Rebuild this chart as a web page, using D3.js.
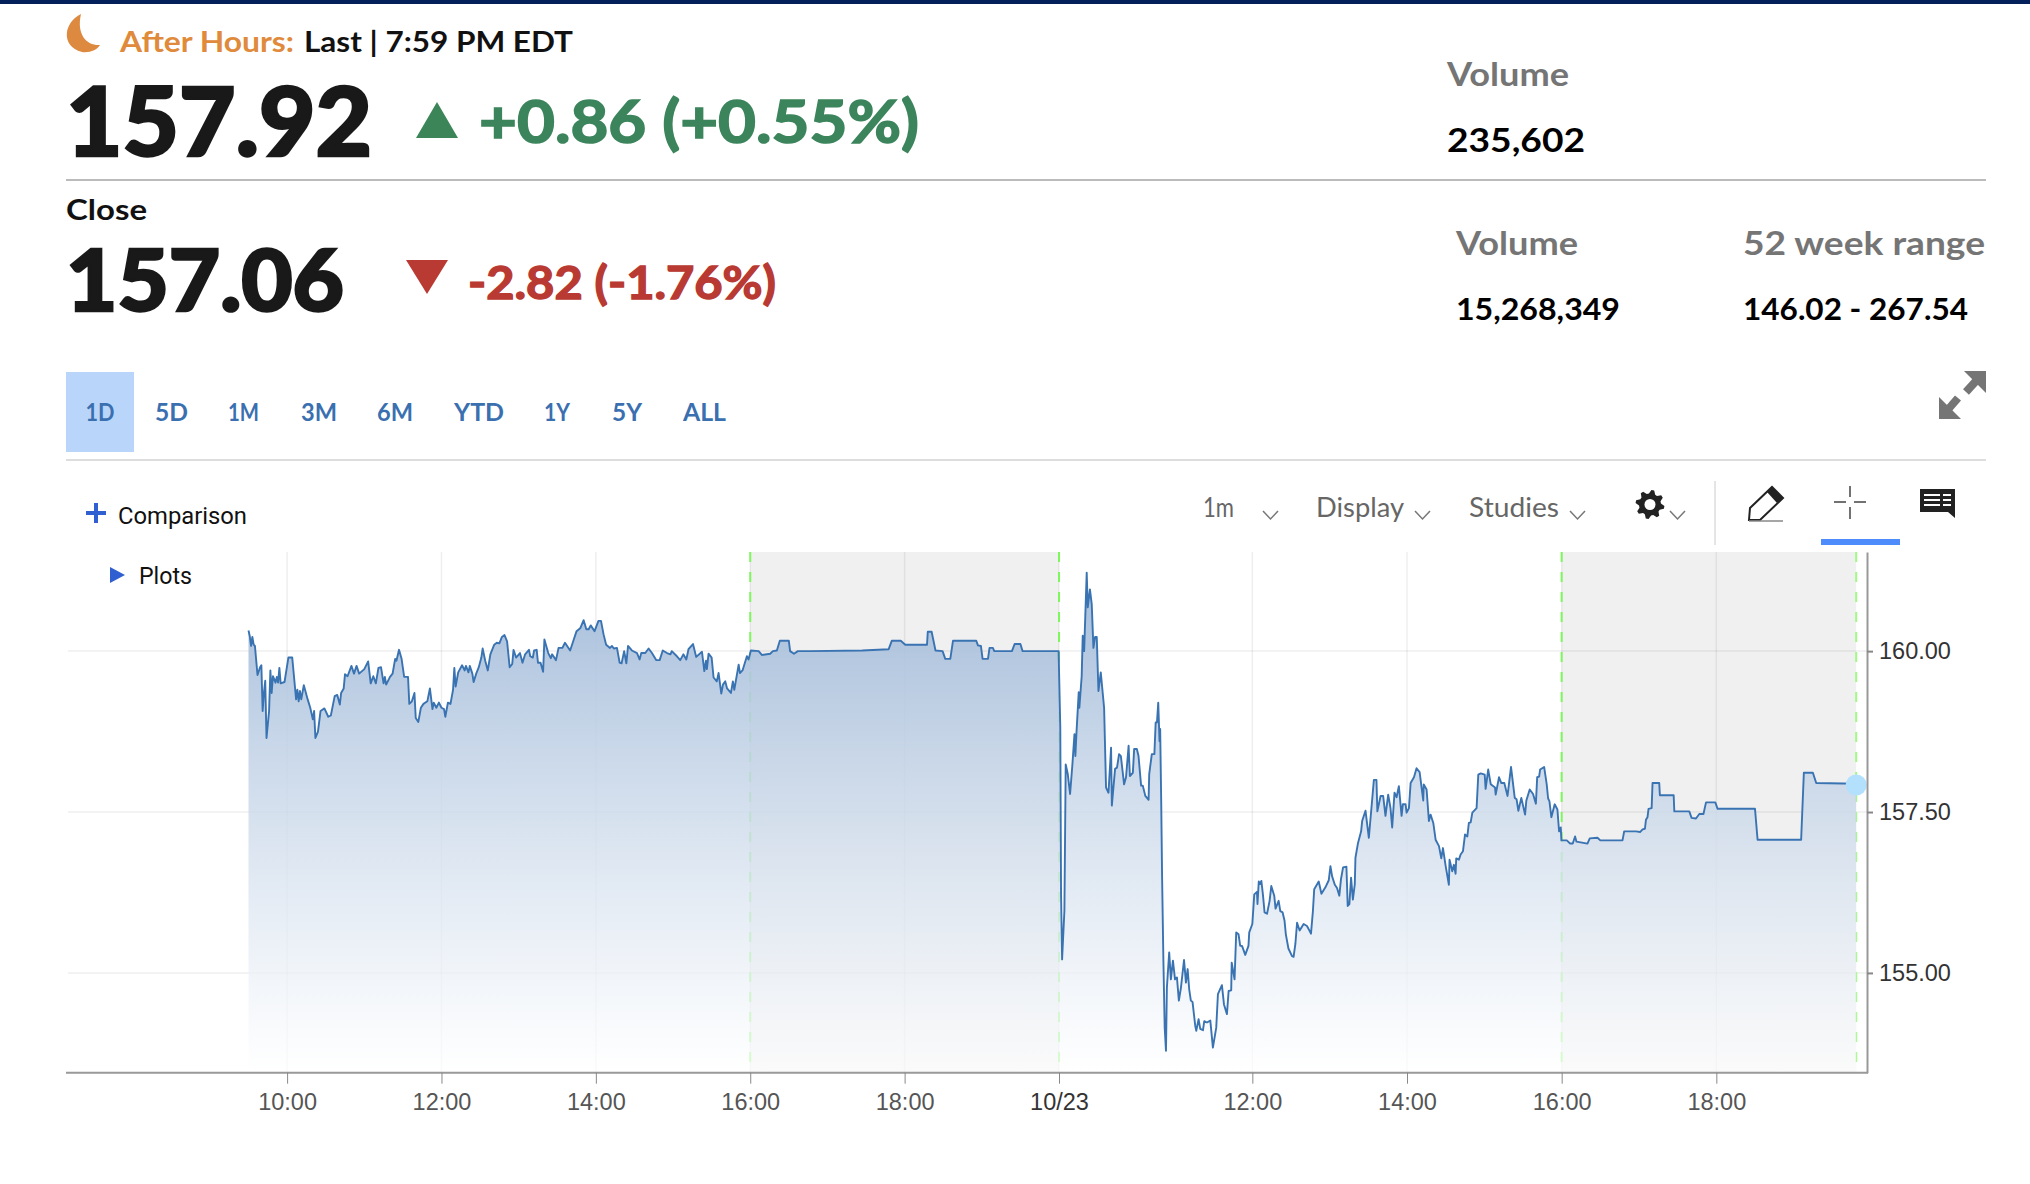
<!DOCTYPE html>
<html>
<head>
<meta charset="utf-8">
<style>
	html, body { margin: 0; padding: 0; background: #fff; }
	svg { display: block; }
	.tick text { font-family: "Liberation Sans", Arial, sans-serif; }
</style>
</head>
<body>
<div id="main"></div>
<script src="https://d3js.org/d3.v7.min.js"></script>
<script>
	// minutes are counted on the chart's own trading axis: 0 = 9:30 on 10/22, 630 = 9:30 on 10/23
	var session1Minutes = [0, 1, 2, 3, 4, 5, 7, 9, 10, 11, 12, 13, 14, 16, 17, 18, 19, 21, 22, 23, 24, 25, 28, 31, 34, 37, 38, 39, 40, 41, 43, 46, 48, 50, 51, 52, 54, 56, 59, 62, 64, 67, 69, 71, 72, 74, 75, 77, 80, 82, 84, 86, 90, 93, 95, 97, 99, 101, 103, 105, 106, 107, 110, 112, 114, 115, 117, 119, 121, 124, 125, 127, 129, 130, 132, 134, 136, 139, 141, 143, 144, 146, 148, 150, 152, 153, 155, 157, 159, 160, 161, 163, 166, 168, 169, 171, 172, 174, 175, 177, 179, 181, 182, 184, 186, 188, 191, 193, 195, 197, 199, 201, 203, 205, 206, 208, 211, 213, 215, 218, 219, 221, 222, 224, 225, 227, 229, 230, 233, 235, 236, 239, 241, 244, 246, 250, 252, 255, 258, 260.5, 262.6, 264.4, 266, 269, 272, 274, 276, 278, 281, 282.5, 284, 286.4, 288.5, 290, 292, 293.7, 295, 298, 302, 304, 305.3, 308.4, 311, 313.6, 317, 319.6, 322, 325.3, 328, 329, 333, 335.6, 338, 340.3, 342, 345.5, 348, 352.5, 354.3, 355.6, 356.3, 357.6, 360, 361.5, 364, 365.4, 367.5, 368.8, 370.6, 372, 375, 376.5, 377.6, 381, 382, 384, 387.4, 388.7, 390.5, 396.5, 399, 405.5, 407.6, 410.7, 413, 420, 421, 424, 427, 437, 477, 497.6, 500, 507, 510.5, 527.4, 528, 531, 534, 539.5, 541.6, 545.5, 547.6, 565.7, 567, 569.3, 570.6, 574.8, 576, 578.6, 579.7, 593.4, 595.5, 600, 601.7, 629.7];
	var session1Prices = [160.32, 160.23, 160.08, 160.22, 160.10, 160.08, 159.63, 159.75, 159.78, 159.07, 159.35, 159.54, 158.65, 159.07, 159.70, 159.35, 159.61, 159.51, 159.60, 159.51, 159.74, 159.50, 159.52, 159.90, 159.90, 159.25, 159.40, 159.22, 159.38, 159.25, 159.47, 159.25, 159.12, 158.94, 159.07, 158.65, 158.75, 159.07, 159.11, 158.98, 159.00, 159.30, 159.32, 159.17, 159.35, 159.42, 159.64, 159.61, 159.77, 159.65, 159.77, 159.65, 159.72, 159.84, 159.50, 159.61, 159.50, 159.74, 159.75, 159.50, 159.60, 159.48, 159.60, 159.65, 159.88, 159.85, 160.02, 159.88, 159.60, 159.60, 159.18, 159.22, 159.35, 158.96, 158.90, 159.12, 159.18, 159.22, 159.42, 159.10, 159.20, 159.12, 159.20, 159.12, 159.10, 158.98, 159.20, 159.18, 159.40, 159.74, 159.45, 159.67, 159.78, 159.70, 159.77, 159.67, 159.77, 159.65, 159.52, 159.65, 159.75, 159.90, 160.04, 159.85, 159.70, 159.95, 160.10, 160.13, 160.12, 160.22, 160.25, 160.15, 159.75, 159.80, 160.02, 159.90, 159.97, 159.82, 159.95, 160.02, 159.92, 159.90, 160.01, 160.02, 159.82, 159.82, 159.68, 160.18, 159.97, 159.89, 159.95, 159.86, 160.05, 160.05, 160.13, 160.01, 160.13, 160.31, 160.36, 160.48, 160.34, 160.34, 160.40, 160.31, 160.47, 160.47, 160.26, 160.10, 160.05, 160.08, 160.04, 160.05, 159.82, 159.81, 160.00, 159.81, 160.08, 160.01, 159.97, 159.87, 159.97, 159.97, 160.04, 159.97, 159.86, 159.86, 160.01, 159.97, 159.95, 160.00, 159.92, 159.86, 159.95, 159.87, 160.03, 160.11, 159.91, 159.99, 159.69, 159.85, 159.72, 159.96, 159.90, 159.59, 159.53, 159.66, 159.34, 159.48, 159.53, 159.42, 159.35, 159.53, 159.40, 159.79, 159.66, 159.70, 159.92, 159.87, 160.01, 160.00, 159.94, 159.96, 160.00, 160.01, 160.16, 160.16, 160.00, 159.96, 160.00, 160.00, 160.01, 160.03, 160.16, 160.16, 160.10, 160.10, 160.30, 160.30, 160.01, 160.00, 159.88, 159.88, 160.16, 160.16, 160.09, 160.08, 159.88, 159.88, 160.05, 160.05, 160.00, 160.00, 160.11, 160.11, 160.00, 160.00];

	var session2Minutes = [631, 631.6, 632.4, 634.2, 635.2, 636.8, 638.6, 640.4, 642, 642.7, 643.5, 645.3, 645.8, 647.6, 648.4, 649.5, 651.5, 652.3, 654, 655.4, 656.7, 658, 659.3, 660.6, 662.4, 665, 666.5, 668.4, 670.4, 671, 673.5, 675, 676.6, 678, 680.5, 682, 684, 685, 687.3, 688.3, 690.4, 691.7, 693.7, 695, 697, 699.5, 700, 702, 704, 705, 706, 707, 708, 708.5, 709.3, 710, 711, 712, 713, 713.7, 715.5, 716.8, 718.4, 720, 721.5, 723, 724.6, 727, 728.5, 729.8, 731, 732.3, 733.6, 735.7, 736.5, 738.3, 739.6, 741.7, 742.7, 744.8, 747.4, 749.4, 752, 753.3, 756.4, 758, 760.3, 761.6, 763.6, 764, 766.2, 767.5, 769.3, 770.6, 772, 774.5, 777, 777.6, 780, 781.5, 783.6, 784, 785, 786, 787, 788.2, 789.5, 791.4, 793.4, 794.7, 797, 798, 800.4, 801.7, 803.5, 805, 806, 808, 810.8, 812, 813.4, 814.7, 816.7, 819.8, 822.4, 823.7, 825.5, 827, 828, 831.5, 833.6, 836.7, 839.3, 840.6, 841.9, 844, 845.7, 847.5, 848.8, 850.4, 853, 854, 855.3, 856.6, 858, 859.5, 860, 862, 864.4, 865.2, 867.8, 870.4, 874.3, 876.3, 877, 879.5, 881.5, 883.3, 885.4, 887.2, 888.5, 890.3, 891.9, 893.7, 895.8, 896.8, 898.9, 899.7, 901.5, 902.8, 905.4, 907.4, 909.8, 911, 912.6, 913, 915.2, 917, 918.3, 920.4, 922.2, 924.8, 926.6, 927.9, 930, 932.5, 933, 935.1, 936.4, 937.7, 938.2, 940.3, 941.6, 943.4, 945, 946.8, 948, 949.4, 950.7, 954, 955.3, 957.2, 960.3, 961, 963, 965, 968.3, 968.8, 971.4, 973.2, 975.5, 978, 980.7, 983.6, 985, 986.4, 988.7, 991.6, 992.6, 995.2, 997.8, 1000, 1001, 1002.5, 1003.3, 1006.4, 1008.4, 1009.5, 1010.5, 1012, 1014.6, 1016.7, 1018, 1019.3, 1019.8, 1024, 1026.6, 1028.6, 1030.4, 1031.5, 1040, 1041.8, 1047.8, 1050, 1067.2, 1068.5, 1077.6, 1081, 1082.8, 1084.6, 1085.4, 1086.6, 1087.4, 1089.8, 1090.5, 1095.7, 1096.2, 1106.9, 1107.4, 1119, 1120.8, 1124.2, 1126.8, 1130, 1132, 1139.2, 1141, 1170, 1172, 1205.8, 1207.9, 1214.9, 1217.5, 1248.5];
	var session2Prices = [158.81, 156.22, 155.21, 155.97, 158.24, 158.09, 157.78, 158.24, 158.71, 158.37, 158.71, 159.36, 159.12, 159.61, 160.24, 160.00, 161.22, 160.68, 160.96, 160.73, 160.05, 160.22, 160.22, 159.38, 159.67, 159.12, 157.88, 157.80, 158.50, 157.60, 158.17, 158.19, 158.40, 158.37, 157.93, 158.04, 158.53, 158.06, 158.11, 158.48, 158.48, 158.37, 157.91, 157.91, 157.75, 157.69, 158.09, 158.40, 158.40, 158.89, 158.89, 159.20, 158.60, 158.79, 157.67, 156.48, 155.19, 154.15, 153.79, 154.77, 155.32, 154.90, 155.19, 154.90, 154.93, 154.57, 154.77, 155.20, 154.85, 155.06, 154.75, 154.57, 154.55, 154.18, 154.10, 154.28, 154.13, 154.11, 154.25, 154.23, 154.26, 153.84, 154.15, 154.67, 154.81, 154.51, 154.36, 154.72, 154.73, 155.16, 154.90, 155.63, 155.60, 155.42, 155.42, 155.28, 155.42, 155.63, 155.76, 156.22, 156.26, 156.07, 156.42, 156.38, 156.43, 156.22, 155.94, 155.92, 156.12, 156.35, 156.20, 156.00, 156.12, 155.96, 155.94, 155.81, 155.60, 155.38, 155.26, 155.25, 155.45, 155.78, 155.66, 155.76, 155.73, 155.68, 155.61, 155.96, 156.30, 156.42, 156.23, 156.33, 156.44, 156.66, 156.50, 156.37, 156.32, 156.20, 156.46, 156.64, 156.65, 156.04, 156.07, 156.48, 156.14, 156.38, 156.79, 157.02, 157.20, 157.36, 157.52, 157.10, 158.00, 158.00, 157.51, 157.75, 157.75, 157.44, 157.77, 157.56, 157.26, 157.80, 157.73, 157.90, 157.44, 157.62, 157.62, 157.49, 157.56, 157.95, 158.04, 158.18, 158.12, 157.93, 157.68, 157.93, 157.85, 157.36, 157.46, 157.33, 157.07, 156.97, 156.78, 156.94, 156.66, 156.37, 156.76, 156.58, 156.68, 156.54, 156.78, 156.76, 156.84, 156.89, 157.15, 157.12, 157.33, 157.34, 157.49, 157.56, 158.08, 158.10, 158.08, 157.86, 158.16, 157.93, 157.88, 157.77, 158.04, 157.95, 157.95, 157.75, 158.20, 157.72, 157.70, 157.52, 157.72, 157.46, 157.68, 157.85, 157.78, 157.63, 158.04, 158.05, 158.16, 158.20, 157.93, 157.71, 157.67, 157.42, 157.62, 157.54, 157.20, 157.26, 157.06, 157.06, 157.01, 157.01, 157.12, 157.04, 157.01, 157.09, 157.10, 157.06, 157.06, 157.20, 157.20, 157.19, 157.23, 157.24, 157.38, 157.42, 157.55, 157.56, 157.95, 157.95, 157.76, 157.76, 157.51, 157.51, 157.41, 157.40, 157.47, 157.47, 157.65, 157.65, 157.55, 157.55, 157.07, 157.07, 158.11, 158.11, 157.95, 157.94];

	var tickMinutes = [30, 150, 270, 390, 510, 630, 780, 900, 1020, 1140];
	var tickLabels = ['10:00', '12:00', '14:00', '16:00', '18:00', '10/23', '12:00', '14:00', '16:00', '18:00'];
	var priceTicks = [155, 157.5, 160];
	var extendedHours = [[390, 630], [1020, 1248.5]];
	var sessionMarks = [390, 630, 1020, 1248.5];
	var rangeTabs = ['1D', '5D', '1M', '3M', '6M', 'YTD', '1Y', '5Y', 'ALL'];

	var minutes = [...session1Minutes, ...session2Minutes];
	var prices = [...session1Prices, ...session2Prices];
	var points = minutes.map((m, i) => ({ m: m, p: prices[i] }));
	var last = points[points.length - 1];

	var proxima = 'Lato, sans-serif';
	var roboto = 'Roboto, sans-serif';
	var plotTop = 552, plotBottom = 1072.7, axisX = 1867;

	var svg = d3.select('#main').append('svg')
		.attr('width', 2030)
		.attr('height', 1184)
		.attr('viewBox', '0 0 2030 1184')

	var x = d3.scaleLinear().domain([0, 630, 1260]).range([248.5, 1059, 1871])
	var y = d3.scaleLinear().domain([153.45, 161.54]).range([plotBottom, plotTop])

	var defs = svg.append('defs')
	var grad = defs.append('linearGradient')
		.attr('id', 'areaFill')
		.attr('gradientUnits', 'userSpaceOnUse')
		.attr('x1', 0).attr('x2', 0)
		.attr('y1', plotTop).attr('y2', plotBottom)
	grad.append('stop').attr('offset', '0%').attr('stop-color', 'rgb(154,181,214)').attr('stop-opacity', .95)
	grad.append('stop').attr('offset', '100%').attr('stop-color', '#fff').attr('stop-opacity', .7)

	// page chrome
	svg.append('rect').attr('width', 2030).attr('height', 4).attr('fill', '#04205a')
	svg.append('path')
		.attr('d', 'M81 14C64 22 60 46 82 52C90 53 97 50 100 45C88 46 76 36 81 14Z')
		.attr('fill', '#dd8a40')

	// text, x, baseline, size, weight, colour, width, font, extra stroke for the heavy digits
	var headerText = [
		['After Hours:', 120, 52, 29, 700, '#e08a3c', 174, proxima, 0],
		['Last | 7:59 PM EDT', 304, 52, 29, 700, '#111', 269, proxima, 0],
		['157.92', 66, 156, 95, 900, '#191919', 306, proxima, 2.5],
		['+0.86 (+0.55%)', 479, 143, 60, 700, '#3c855c', 440, proxima, 1.6],
		['Close', 66, 220, 28, 700, '#111', 81, proxima, 0],
		['157.06', 66, 311, 86, 900, '#191919', 278, proxima, 2.5],
		['-2.82 (-1.76%)', 468, 299, 46, 700, '#b93a32', 308, proxima, 1.4],
		['Volume', 1447, 86, 32, 700, '#757575', 122, proxima, 0],
		['235,602', 1447, 152, 33, 700, '#000', 138, proxima, 0],
		['Volume', 1456, 255, 32, 700, '#757575', 122, proxima, 0],
		['52 week range', 1743, 255, 32, 700, '#757575', 242, proxima, 0],
		['15,268,349', 1456, 320, 30, 700, '#000', 164, proxima, 0],
		['146.02 - 267.54', 1743, 320, 30, 700, '#000', 225, proxima, 0],
		['1m', 1203, 517, 27, 400, '#666', 31, proxima, 0],
		['Display', 1316, 517, 27, 400, '#666', 88, proxima, 0],
		['Studies', 1469, 517, 27, 400, '#666', 90, proxima, 0],
		['Comparison', 118, 524, 24, 400, '#111', 129, roboto, 0],
		['Plots', 139, 584, 24, 400, '#111', 53, roboto, 0]
	]
	svg.append('g').selectAll('text')
		.data(headerText)
		.enter().append('text')
		.text(d => d[0])
		.attr('x', d => d[1])
		.attr('y', d => d[2])
		.attr('font-size', d => d[3])
		.attr('font-weight', d => d[4])
		.attr('fill', d => d[5])
		.attr('textLength', d => d[6])
		.attr('lengthAdjust', 'spacingAndGlyphs')
		.attr('font-family', d => d[7])
		.attr('stroke', d => d[8] ? d[5] : 'none')
		.attr('stroke-width', d => d[8])

	svg.append('path').attr('d', 'M416 138L437 102L458 138Z').attr('fill', '#3c8559')
	svg.append('path').attr('d', 'M406 260H448L427 294Z').attr('fill', '#b93a32')
	svg.append('line').attr('x1', 66).attr('x2', 1986).attr('y1', 180).attr('y2', 180).attr('stroke', '#bbb').attr('stroke-width', 2)
	svg.append('line').attr('x1', 66).attr('x2', 1986).attr('y1', 460).attr('y2', 460).attr('stroke', '#ddd').attr('stroke-width', 2)

	// range tabs
	var tabX = [66, 155, 228, 301, 377, 454, 544, 612, 683]
	var tabW = [68, 33, 31, 36, 36, 50, 26, 30, 43]
	svg.append('rect').attr('x', 66).attr('y', 372).attr('width', 68).attr('height', 80).attr('fill', '#b9d6fa')
	svg.append('g').selectAll('text')
		.data(rangeTabs)
		.enter().append('text')
		.text(d => d)
		.attr('x', (d, i) => tabX[i] + (i == 0 ? 34 : tabW[i] / 2))
		.attr('y', 421)
		.attr('text-anchor', 'middle')
		.attr('font-family', proxima)
		.attr('font-size', 25)
		.attr('font-weight', 700)
		.attr('fill', '#3a6fb0')
		.attr('textLength', (d, i) => i == 0 ? 29 : tabW[i])
		.attr('lengthAdjust', 'spacingAndGlyphs')

	// toolbar icons
	var icons = svg.append('g')
	icons.append('path').attr('d', 'M1945 413L1958 398').attr('stroke', '#757575').attr('stroke-width', 8)
	icons.append('path').attr('d', 'M1966 392L1976 381').attr('stroke', '#757575').attr('stroke-width', 8)
	icons.append('path').attr('d', 'M1986 371V393L1964 371Z').attr('fill', '#757575')
	icons.append('path').attr('d', 'M1939 419V397L1961 419Z').attr('fill', '#757575')
	icons.append('path').attr('d', 'M96 503V523M86 513H106').attr('stroke', '#2f5fd0').attr('stroke-width', 4)
	icons.append('path').attr('d', 'M110 567L125 575L110 583Z').attr('fill', '#2f5fd0')
	;[1263, 1415, 1570, 1670].forEach(cx => {
		icons.append('path')
			.attr('d', 'M' + cx + ' 511L' + (cx + 7.5) + ' 519L' + (cx + 15) + ' 511')
			.attr('fill', 'none').attr('stroke', '#777').attr('stroke-width', 1.5)
	})
	var gear = d3.range(32).map(i => {
		var a = (i + .5) / 32 * 2 * Math.PI
		var r = i % 4 < 2 ? 14.5 : 11
		return [1650, 504.5].map((c, k) => c + r * (k ? -Math.cos(a) : Math.sin(a)))
	})
	icons.append('path').attr('d', d3.line()(gear) + 'Z').attr('fill', '#222')
	icons.append('circle').attr('cx', 1650).attr('cy', 504.5).attr('r', 5.5).attr('fill', '#fff')
	icons.append('line').attr('x1', 1715).attr('x2', 1715).attr('y1', 481).attr('y2', 545).attr('stroke', '#ddd').attr('stroke-width', 1.5)
	icons.append('path').attr('d', 'M1749 520L1750 508L1772 487L1783 498L1760 520Z').attr('fill', 'none').attr('stroke', '#222').attr('stroke-width', 2)
	icons.append('path').attr('d', 'M1767 492L1772 487L1783 498L1777 503Z').attr('fill', '#222')
	icons.append('line').attr('x1', 1749).attr('x2', 1783).attr('y1', 521).attr('y2', 521).attr('stroke', '#888').attr('stroke-width', 1.5)
	icons.append('path').attr('d', 'M1850 486V497M1850 507V519M1834 502H1846M1854 502H1866').attr('stroke', '#444').attr('stroke-width', 1.5)
	icons.append('path').attr('d', 'M1920 489H1955V518L1948 512H1920Z').attr('fill', '#222')
	icons.append('path').attr('d', 'M1924 495H1940M1924 500H1940M1924 505H1940M1943 495H1951M1943 500H1951M1943 505H1951').attr('stroke', '#fff').attr('stroke-width', 2)
	icons.append('rect').attr('x', 1821).attr('y', 539).attr('width', 79).attr('height', 6).attr('fill', '#4f8cfb')

	// plot
	svg.append('g').selectAll('rect')
		.data(extendedHours)
		.enter().append('rect')
		.attr('x', d => x(d[0]))
		.attr('width', d => x(d[1]) - x(d[0]))
		.attr('y', plotTop)
		.attr('height', plotBottom - plotTop)
		.attr('fill', '#f0f0f0')

	svg.append('g').selectAll('line')
		.data(priceTicks)
		.enter().append('line')
		.attr('x1', 68).attr('x2', axisX)
		.attr('y1', d => y(d)).attr('y2', d => y(d))
		.attr('stroke', 'rgba(0,0,0,.065)')
		.attr('stroke-width', 1.5)
	svg.append('g').selectAll('line')
		.data(tickMinutes)
		.enter().append('line')
		.attr('x1', d => x(d)).attr('x2', d => x(d))
		.attr('y1', plotTop).attr('y2', plotBottom)
		.attr('stroke', 'rgba(0,0,0,.065)')
		.attr('stroke-width', 1.5)

	svg.append('g').selectAll('line')
		.data(sessionMarks)
		.enter().append('line')
		.attr('x1', d => x(d)).attr('x2', d => x(d))
		.attr('y1', plotTop).attr('y2', plotBottom)
		.attr('stroke', (d, i) => i == 3 ? '#9ffb84' : '#7ef75c')
		.attr('stroke-width', 2)
		.attr('stroke-dasharray', '10,10')

	var area = d3.area()
		.x(d => x(d.m))
		.y0(plotBottom)
		.y1(d => y(d.p))
	var line = d3.line()
		.x(d => x(d.m))
		.y(d => y(d.p))

	svg.append('path').datum(points).attr('d', area).attr('fill', 'url(#areaFill)')
	svg.append('path').datum(points).attr('d', line)
		.attr('fill', 'none')
		.attr('stroke', '#3a73b2')
		.attr('stroke-width', 1.9)
		.attr('stroke-linejoin', 'round')

	svg.append('circle')
		.attr('cx', x(last.m))
		.attr('cy', y(157.92))
		.attr('r', 10.5)
		.attr('fill', '#b3e0fd')

	// axes
	svg.append('line').attr('x1', 66).attr('x2', axisX + 1).attr('y1', plotBottom).attr('y2', plotBottom).attr('stroke', '#999').attr('stroke-width', 2)
	svg.append('g')
		.attr('transform', 'translate(0,' + plotBottom + ')')
		.call(d3.axisBottom(x).tickValues(tickMinutes).tickFormat((d, i) => tickLabels[i]).tickSize(11).tickPadding(10))
		.call(g => {
			g.select('.domain').remove()
			g.selectAll('line').attr('stroke', '#888')
			g.selectAll('text').attr('font-size', 23.5).attr('fill', (d, i) => i == 5 ? '#333' : '#555')
		})
	svg.append('g')
		.attr('transform', 'translate(' + axisX + ',0)')
		.call(d3.axisRight(y).tickValues(priceTicks).tickFormat(d3.format('.2f')).tickSizeInner(6).tickSizeOuter(0).tickPadding(6))
		.call(g => {
			g.select('.domain').attr('stroke', '#999').attr('stroke-width', 2)
			g.selectAll('line').attr('stroke', '#888').attr('stroke-width', 2)
			g.selectAll('text').attr('font-size', 23.5).attr('fill', '#333')
		})
</script>
</body>
</html>
